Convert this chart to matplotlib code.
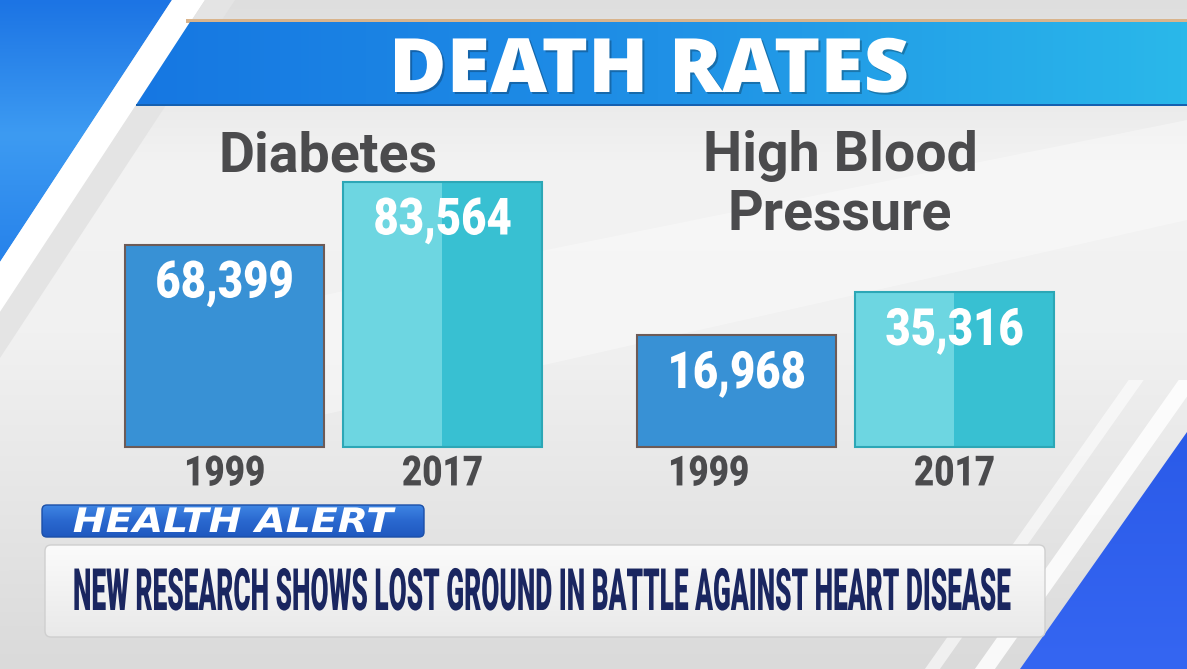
import numpy as np
import matplotlib
matplotlib.use('Agg')
import matplotlib.pyplot as plt
from matplotlib import patheffects
from matplotlib.patches import Polygon, FancyBboxPatch, Rectangle
from matplotlib.transforms import Affine2D
from matplotlib.colors import LinearSegmentedColormap, to_rgba

W, H = 1187, 669

title = 'DEATH RATES'
groups = ['Diabetes', 'High Blood\nPressure']
years = ['1999', '2017']
diabetes = [68399, 83564]
blood_pressure = [16968, 35316]
# the TV graphic does not put both panels on one scale: each gets its own range
diabetes_range = (19800, 91150)
blood_pressure_range = (-30600, 95900)
tag = 'HEALTH ALERT'
headline = 'NEW RESEARCH SHOWS LOST GROUND IN BATTLE AGAINST HEART DISEASE'

NARROW = ['Roboto', 'DejaVu Sans']
GREY_TXT = '#4b4b4d'


class Stretch(patheffects.AbstractPathEffect):
    """draw text stretched about its centre/baseline (condensed TV fonts)"""
    def __init__(self, sx=1.0, sy=1.0, offset=(0, 0), color=None):
        super().__init__((0, 0))
        self.sx, self.sy = sx, sy
        self.dx, self.dy = offset
        self.color = color

    def draw_path(self, renderer, gc, tpath, affine, rgbFace=None):
        bb = tpath.get_extents(affine)
        ox, oy = affine.transform((0, 0))
        cx = (bb.x0 + bb.x1) / 2
        t = affine + Affine2D().translate(-cx, -oy).scale(self.sx, self.sy).translate(cx + self.dx, oy + self.dy)
        face = rgbFace if self.color is None else to_rgba(self.color)
        renderer.draw_path(gc, tpath, t, face)


fig = plt.figure(figsize=(W / 100, H / 100), dpi=100)
bg = fig.add_axes([0, 0, 1, 1])
bg.set_xlim(0, W)
bg.set_ylim(H, 0)
bg.axis('off')


def gradient(extent, colors, clip, horizontal=True, z=1):
    cmap = LinearSegmentedColormap.from_list('g', colors)
    g = np.linspace(0, 1, 256)
    arr = g[None, :] if horizontal else g[:, None]
    im = bg.imshow(arr, cmap=cmap, extent=extent, aspect='auto', zorder=z,
                   interpolation='bicubic')
    clip.set_transform(bg.transData)
    im.set_clip_path(clip)
    return im


# background
gradient((0, W, H, 0), ['#dedede', '#f3f3f3', '#f1f1f1', '#e6e6e6', '#dadada'],
         Rectangle((0, 0), W, H), horizontal=False, z=0)
bg.add_patch(Polygon([(300, 300), (W, 120), (W, 220), (300, 420)], closed=True,
                     color='white', alpha=0.35, lw=0, zorder=0.5))

# blue corner top left
gradient((0, 180, 270, 0), ['#1c74e4', '#3d9bf2', '#2580ea'],
         Polygon([(0, 0), (172, 0), (0, 262)]), horizontal=False, z=1)
bg.add_patch(Polygon([(172, 0), (205, 0), (0, 312), (0, 262)], color='white', lw=0, zorder=1))
bg.add_patch(Polygon([(205, 0), (235, 0), (0, 358), (0, 312)], color='#e4e4e4', lw=0, zorder=1))

# blue corner bottom right
def edge(y, off):
    return 1187 - 0.705 * (y - 432) - off

gradient((1000, W, H, 420), ['#2a5ae8', '#3566f2'],
         Polygon([(W, 432), (W, H), (1020, H)]), horizontal=False, z=1)
bg.add_patch(Polygon([(edge(380, 45), 380), (edge(380, 25), 380), (edge(H, 25), H), (edge(H, 45), H)],
                     color='white', alpha=0.85, lw=0, zorder=1))
bg.add_patch(Polygon([(edge(380, 95), 380), (edge(380, 80), 380), (edge(H, 80), H), (edge(H, 95), H)],
                     color='white', alpha=0.6, lw=0, zorder=1))

# title banner
bg.add_patch(Rectangle((186, 19), W - 186, 3.5, color='#d9b48c', lw=0, zorder=2))
gradient((130, W, 105, 22), ['#1677e2', '#1f90e6', '#2ab8ea'],
         Polygon([(190, 22), (W, 22), (W, 105), (136, 105)]), horizontal=True, z=2)
bg.add_patch(Rectangle((136, 104), W - 136, 2, color='#1560b0', lw=0, zorder=2))
bg.text(649, 92, title, ha='center', va='baseline', color='white', fontsize=54,
        fontweight='heavy', family=['Open Sans', 'DejaVu Sans'], zorder=3,
        path_effects=[Stretch(sx=1.05, offset=(2, -2), color=(0, 0, 0, 0.25)), Stretch(sx=1.05)])

# panel titles
title_x = [328, 840]
for gx, name in zip(title_x, groups):
    for i, line in enumerate(name.split('\n')):
        bg.text(gx, 171 + 59 * i, line, ha='center', va='baseline', color=GREY_TXT,
                fontsize=40, fontweight='bold', family=['Roboto', 'DejaVu Sans'], zorder=3)


def panel(rect, values, yrange, first_shift=0):
    ax = fig.add_axes(rect)
    ax.set_xlim(-0.6, 1.6)
    ax.set_ylim(*yrange)
    ax.patch.set_alpha(0)
    for s in ax.spines.values():
        s.set_visible(False)
    ax.set_yticks([])
    x = np.arange(len(values))
    v = np.array(values, dtype=float)
    base = yrange[0]
    w = 0.913
    ax.bar(x[0], v[0] - base, bottom=base, width=w, color='#3891d5',
           edgecolor='#6d5b57', lw=1.5, clip_on=False)
    ax.bar(x[1], v[1] - base, bottom=base, width=w, color='#38c0d2', lw=0, clip_on=False)
    ax.bar(x[1] - w / 2, v[1] - base, bottom=base, width=w / 2, align='edge',
           color='#6dd6e1', lw=0, clip_on=False)
    ax.bar(x[1], v[1] - base, bottom=base, width=w, fill=False,
           edgecolor='#2ca7b6', lw=1.5, clip_on=False)
    for xi, vi in zip(x, v):
        ax.annotate(f'{vi:,.0f}', (xi, vi), xytext=(0, -53), textcoords='offset pixels',
                    ha='center', va='baseline', color='white', fontsize=37,
                    fontweight='black', family=NARROW, path_effects=[Stretch(sx=0.85)])
    ax.set_xticks(x, years, fontsize=30, fontweight='black', color=GREY_TXT, family=NARROW)
    ax.tick_params(length=0, pad=5)
    labels = ax.get_xticklabels()
    labels[0].set_path_effects([Stretch(sx=0.84, offset=(first_shift, 0))])
    labels[1].set_path_effects([Stretch(sx=0.84)])
    return ax


bottom = (H - 446.5) / H
height = (446.5 - 150) / H
panel([93.7 / W, bottom, 479.6 / W, height], diabetes, diabetes_range)
panel([605.7 / W, bottom, 479.6 / W, height], blood_pressure, blood_pressure_range, first_shift=-28)

# health alert tag
tag_box = FancyBboxPatch((42, 505), 382, 32, boxstyle='round,pad=0,rounding_size=5')
gradient((42, 424, 537, 505), ['#3f86e4', '#2a68cf', '#1f58bf'], tag_box, horizontal=False, z=4)
bg.add_patch(FancyBboxPatch((42, 505), 382, 32, boxstyle='round,pad=0,rounding_size=5',
                            fill=False, edgecolor='#1b4fa8', lw=1, zorder=4))
bg.text(233, 532, tag, ha='center', va='baseline', color='white', fontsize=27,
        fontweight='bold', style='italic', family=['DejaVu Sans'], zorder=5,
        path_effects=[Stretch(sx=1.05, sy=0.9)])

# lower third
lt_box = FancyBboxPatch((45, 545), 1000, 92, boxstyle='round,pad=0,rounding_size=6')
gradient((45, 1045, 637, 545), ['#fbfbfb', '#f2f2f2', '#e9e9e9'], lt_box, horizontal=False, z=4)
bg.add_patch(FancyBboxPatch((45, 545), 1000, 92, boxstyle='round,pad=0,rounding_size=6',
                            fill=False, edgecolor='#cfcfcf', lw=1, zorder=4))
bg.text(542, 610, headline, ha='center', va='baseline', color='#1a2660', fontsize=21,
        fontweight='black', family=NARROW, zorder=5, path_effects=[Stretch(sx=0.9, sy=2.0)])

fig.savefig('out.png', dpi=100)
